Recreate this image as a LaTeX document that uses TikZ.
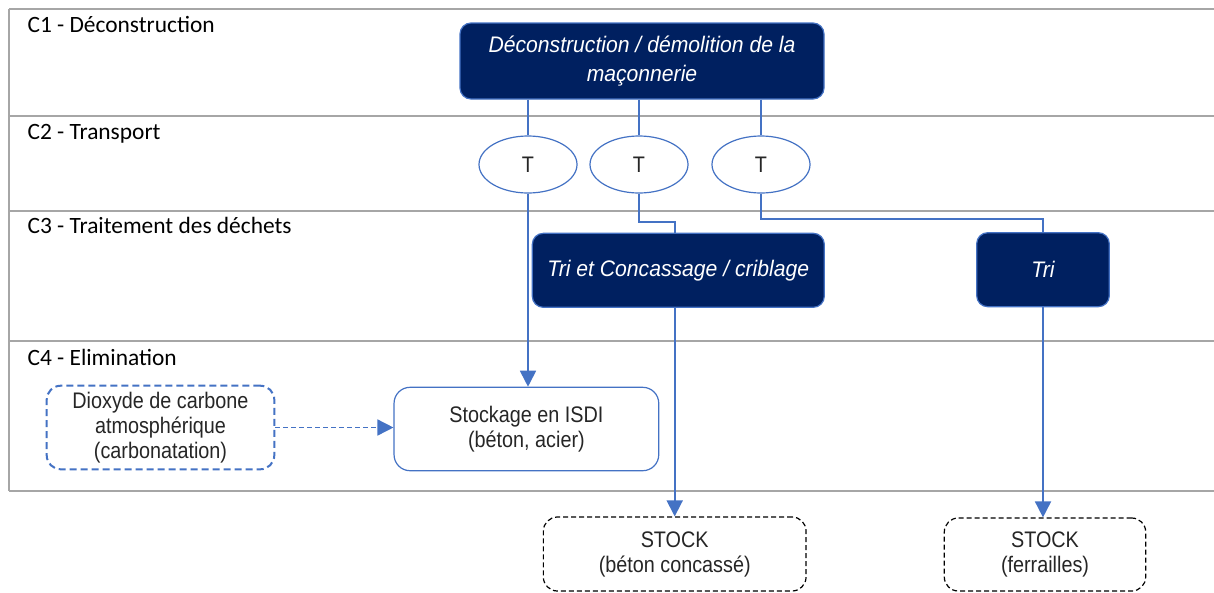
\documentclass[tikz,border=0pt]{standalone}
\usepackage{fontspec}
\usepackage{tikz}
\usetikzlibrary{shapes.geometric}
\usetikzlibrary{arrows.meta,calc}
\newfontfamily\boxfont[FakeStretch=0.88]{Liberation Sans}
\newfontfamily\etapefont[FakeStretch=0.94]{Liberation Sans}
\newfontfamily\bandfont{Carlito}
\definecolor{navy}{HTML}{002060}
\definecolor{bleu}{HTML}{4472C4}
\definecolor{gris}{HTML}{A6A6A6}
\definecolor{texte}{HTML}{262626}

\begin{document}
\begin{tikzpicture}[x=1pt,y=-1pt,
    bande/.style={anchor=base west,font=\bandfont\fontsize{23.4}{28}\selectfont},
    etape/.style={draw=bleu,line width=1.2pt,fill=navy,rounded corners=11pt,text=white,
      align=center,inner sep=0pt,font=\etapefont\itshape\fontsize{22.5}{29}\selectfont},
    transp/.style={ellipse,draw=bleu,line width=1.2pt,fill=white,minimum width=98pt,
      minimum height=57pt,inner sep=0pt,text=texte,font=\boxfont\fontsize{22.5}{25}\selectfont},
    stockage/.style={draw=bleu,line width=1.2pt,fill=white,rounded corners=16pt,text=texte,
      align=center,inner sep=0pt,font=\boxfont\fontsize{22.5}{25}\selectfont},
    source/.style={stockage,line width=2pt,dash pattern=on 7pt off 4pt,rounded corners=14pt},
    stock/.style={stockage,draw=black,line width=1.2pt,dash pattern=on 5pt off 3pt,rounded corners=14pt},
    lien/.style={draw=bleu,line width=1.8pt},
    fleche/.style={lien,-{Triangle[length=16pt,width=16pt]}}]
     \useasboundingbox (0,0) rectangle (1214,592);
     %cadre des phases
     \draw[gris,line width=2pt] (9,9) -- (9,490.7);
     \foreach \y in {9,116,210.7,341.3,490.7}  {
     	\draw[gris,line width=2pt] (9,\y) -- (1214,\y);
     }
     \node[bande] (c1) at (24,32) {C1 - Déconstruction};
     \node[bande] (c2) at (24,139) {C2 - Transport};
     \node[bande] (c3) at (24,233) {C3 - Traitement des déchets};
     \node[bande] (c4) at (24,365) {C4 - Elimination};
     
     %C1
     \node[etape,minimum width=364pt,minimum height=76pt] (dec) at (642,61)
     	{Déconstruction / démolition de la\\maçonnerie};
     
     %C2
     \foreach \x/\n in {528/t1,639/t2,761/t3}  {
     	\node[transp] (\n) at (\x,164.5) {T};
     	\draw[lien] (dec.south -| \n.north) -- (\n.north);
     }
     
     %C3
     \node[etape,minimum width=292pt,minimum height=74pt] (tricc) at (678.3,270.3)
     	{Tri et Concassage / criblage};
     \node[etape,minimum width=132.6pt,minimum height=74pt] (tri) at (1043,269.7) {Tri};
     
     %C4
     \node[stockage,minimum width=264.7pt,minimum height=83.4pt] (isdi) at (526.4,429)
     	{Stockage en ISDI\\(béton, acier)};
     \node[source,minimum width=227.6pt,minimum height=83.6pt] (co2) at (160.5,427.5)
     	{Dioxyde de carbone\\atmosphérique\\(carbonatation)};
     
     \node[stock,minimum width=262.7pt,minimum height=74pt] (stockb) at (674.7,554)
     	{STOCK\\(béton concassé)};
     \node[stock,minimum width=201.4pt,minimum height=73pt] (stockf) at (1045,554.5)
     	{STOCK\\(ferrailles)};
     
     %flux
     \draw[fleche] (t1.south) -- (t1.south |- isdi.north);
     \draw[lien] (t2.south) -- (t2.south |- 0,222.3) -| (stockb.north |- tricc.north);
     \draw[lien] (t3.south) -- (t3.south |- 0,218.7) -| (tri.north);
     \draw[fleche] (stockb.north |- tricc.south) -- (stockb.north);
     \draw[fleche] (tri.south) -- (tri.south |- stockf.north);
     \draw[fleche,line width=1.5pt,dash pattern=on 5pt off 3pt] (co2.east) -- (co2.east -| isdi.west);
     
\end{tikzpicture}
\end{document}
